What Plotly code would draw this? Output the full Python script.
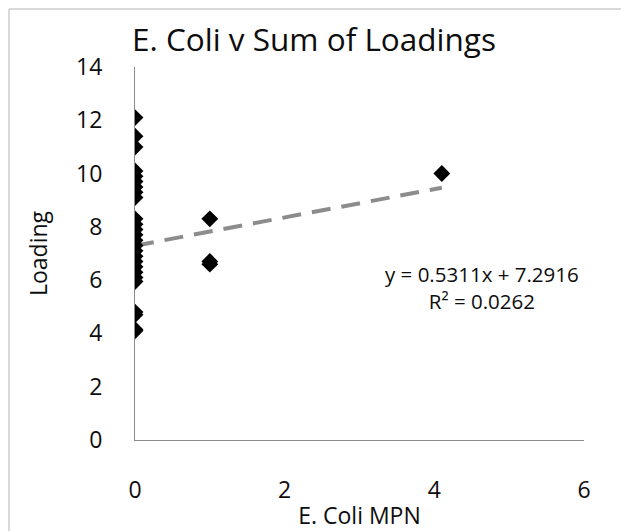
import plotly.graph_objects as go

# Data
ecoli_mpn = [0]*26 + [1, 1, 1, 4.1]
loading = [12.1, 11.4, 11.0, 10.1, 9.9, 9.7, 9.5, 9.3, 9.1,
           8.3, 8.1, 7.9, 7.7, 7.5, 7.3, 7.1, 6.9, 6.7, 6.5, 6.3, 6.1, 5.95,
           4.8, 4.7, 4.15, 4.1,
           8.3, 6.7, 6.6, 10.0]
slope = 0.5311
intercept = 7.2916
r2 = 0.0262
x_ticks = [0, 2, 4, 6]
y_ticks = [0, 2, 4, 6, 8, 10, 12, 14]

# the page body adds an 8px offset, so the figure is sized to the visible area
W, H = 621, 523
ML, MR, MT, MB = 127, 45, 59, 91
PW, PH = W - ML - MR, H - MT - MB

font = "Open Sans"
txt = "#0d0d0d"

fig = go.Figure()
x_lo, x_hi = min(ecoli_mpn), max(ecoli_mpn)
fig.add_trace(go.Scatter(
    x=[x_lo, x_hi], y=[intercept + slope * x_lo, intercept + slope * x_hi],
    mode="lines", line=dict(color="#8c8c8c", width=4, dash="19px,11px"),
    hoverinfo="skip", showlegend=False))
fig.add_trace(go.Scatter(
    x=ecoli_mpn, y=loading, mode="markers",
    marker=dict(symbol="diamond", size=13, color="black"),
    showlegend=False))

def px_to_paper_x(px):
    return (px - ML) / PW

def px_to_paper_y(py):
    return (H - MB - py) / PH

fig.update_layout(
    width=W, height=H,
    margin=dict(l=ML, r=MR, t=MT, b=MB, autoexpand=False),
    paper_bgcolor="white", plot_bgcolor="white",
    font=dict(family=font, color=txt, size=22),
    title=dict(text="E. Coli v Sum of Loadings", x=124 / W, xref="container",
               xanchor="left", y=1 - 32 / H, yref="container", yanchor="middle",
               font=dict(size=31.5, family=font, color=txt)),
    xaxis=dict(range=[0, 6], tickvals=x_ticks, showgrid=False, zeroline=False,
               showline=True, linecolor="#8c8c8c", linewidth=1,
               ticks="", ticklabelstandoff=29,
               tickfont=dict(size=23),
               title=dict(text="E. Coli MPN", font=dict(size=23), standoff=7)),
    yaxis=dict(range=[0, 14], tickvals=y_ticks, showgrid=False, zeroline=False,
               showline=True, linecolor="#8c8c8c", linewidth=1,
               ticks="", ticklabelstandoff=27,
               tickfont=dict(size=23),
               title=dict(text="Loading", font=dict(size=23), standoff=22)),
    annotations=[dict(
        text=f"y = {slope}x + {intercept}<br>R² = {r2}",
        x=px_to_paper_x(474), y=px_to_paper_y(279), xref="paper", yref="paper",
        xanchor="center", yanchor="middle", showarrow=False, align="center",
        font=dict(size=20.5, family=font, color=txt))],
    shapes=[
        dict(type="line", xref="paper", yref="paper",
             x0=px_to_paper_x(1), x1=px_to_paper_x(1),
             y0=px_to_paper_y(1), y1=px_to_paper_y(H),
             line=dict(color="#d9d9d9", width=2)),
        dict(type="line", xref="paper", yref="paper",
             x0=px_to_paper_x(1), x1=px_to_paper_x(W),
             y0=px_to_paper_y(1), y1=px_to_paper_y(1),
             line=dict(color="#d9d9d9", width=2)),
    ],
)

fig.write_html("out.html")
